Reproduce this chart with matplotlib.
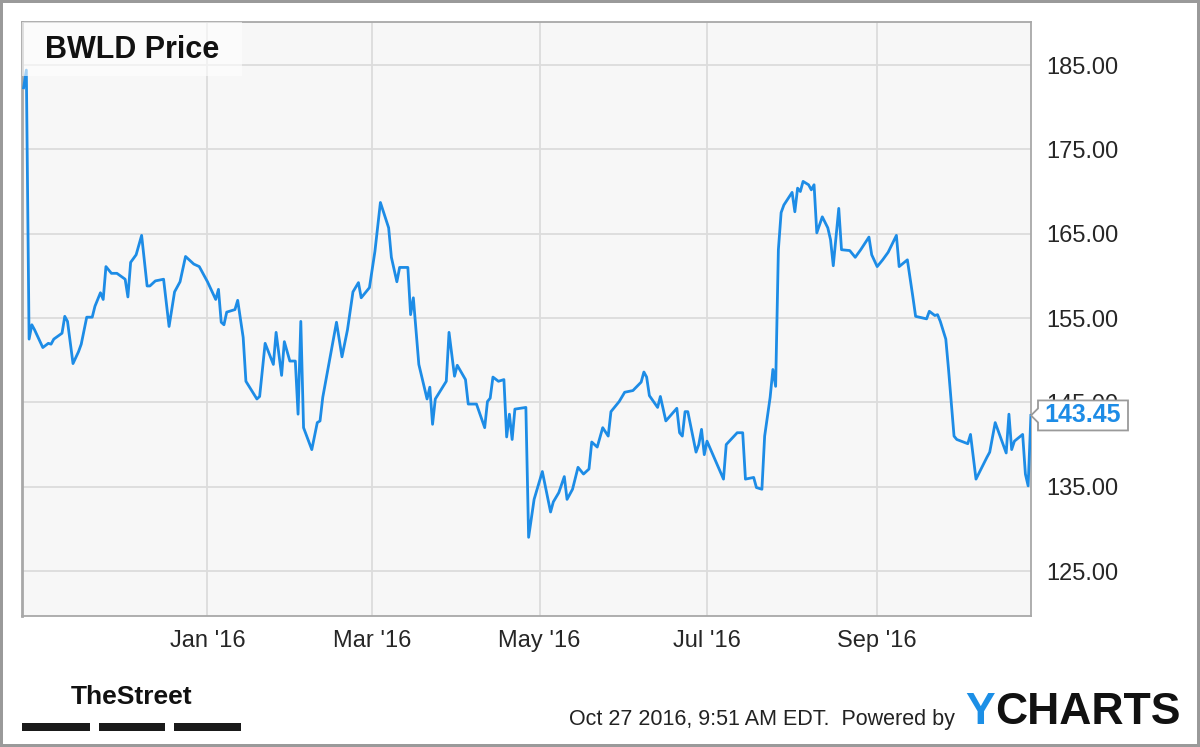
import matplotlib
matplotlib.use("Agg")
import matplotlib.pyplot as plt
import matplotlib.dates as mdates
import matplotlib.transforms as mtransforms
from matplotlib.patches import Polygon, Rectangle
import pandas as pd

# ---------------- data ----------------
dates = [
    "2015-10-26", "2015-10-27", "2015-10-28", "2015-10-29", "2015-10-30", "2015-11-02",
    "2015-11-04", "2015-11-05", "2015-11-06", "2015-11-09", "2015-11-10", "2015-11-11",
    "2015-11-13", "2015-11-15", "2015-11-16", "2015-11-18", "2015-11-20", "2015-11-21",
    "2015-11-23", "2015-11-24", "2015-11-25", "2015-11-27", "2015-11-29", "2015-12-02",
    "2015-12-03", "2015-12-04", "2015-12-06", "2015-12-08", "2015-12-10", "2015-12-11",
    "2015-12-13", "2015-12-16", "2015-12-18", "2015-12-20", "2015-12-22", "2015-12-24",
    "2015-12-27", "2015-12-29", "2016-01-01", "2016-01-04", "2016-01-05", "2016-01-06",
    "2016-01-07", "2016-01-08", "2016-01-11", "2016-01-12", "2016-01-14", "2016-01-15",
    "2016-01-19", "2016-01-20", "2016-01-22", "2016-01-25", "2016-01-26", "2016-01-28",
    "2016-01-29", "2016-01-31", "2016-02-02", "2016-02-03", "2016-02-04", "2016-02-05",
    "2016-02-08", "2016-02-10", "2016-02-11", "2016-02-12", "2016-02-17", "2016-02-19",
    "2016-02-21", "2016-02-23", "2016-02-25", "2016-02-26", "2016-02-29", "2016-03-02",
    "2016-03-04", "2016-03-07", "2016-03-08", "2016-03-10", "2016-03-11", "2016-03-14",
    "2016-03-15", "2016-03-16", "2016-03-18", "2016-03-21", "2016-03-22", "2016-03-23",
    "2016-03-24", "2016-03-28", "2016-03-29", "2016-03-31", "2016-04-01", "2016-04-04",
    "2016-04-05", "2016-04-08", "2016-04-11", "2016-04-12", "2016-04-13", "2016-04-14",
    "2016-04-16", "2016-04-18", "2016-04-19", "2016-04-20", "2016-04-21", "2016-04-22",
    "2016-04-26", "2016-04-27", "2016-04-29", "2016-05-02", "2016-05-05", "2016-05-06",
    "2016-05-08", "2016-05-10", "2016-05-11", "2016-05-13", "2016-05-15", "2016-05-17",
    "2016-05-19", "2016-05-20", "2016-05-22", "2016-05-24", "2016-05-26", "2016-05-27",
    "2016-05-30", "2016-06-01", "2016-06-04", "2016-06-07", "2016-06-08", "2016-06-09",
    "2016-06-10", "2016-06-13", "2016-06-14", "2016-06-16", "2016-06-20", "2016-06-21",
    "2016-06-22", "2016-06-23", "2016-06-24", "2016-06-27", "2016-06-28", "2016-06-29",
    "2016-06-30", "2016-07-01", "2016-07-07", "2016-07-08", "2016-07-12", "2016-07-14",
    "2016-07-15", "2016-07-18", "2016-07-19", "2016-07-21", "2016-07-22", "2016-07-24",
    "2016-07-25", "2016-07-26", "2016-07-27", "2016-07-28", "2016-07-29", "2016-08-01",
    "2016-08-02", "2016-08-03", "2016-08-04", "2016-08-05", "2016-08-07", "2016-08-08",
    "2016-08-09", "2016-08-10", "2016-08-12", "2016-08-14", "2016-08-15", "2016-08-16",
    "2016-08-18", "2016-08-19", "2016-08-22", "2016-08-24", "2016-08-26", "2016-08-29",
    "2016-08-30", "2016-09-01", "2016-09-03", "2016-09-05", "2016-09-08", "2016-09-09",
    "2016-09-12", "2016-09-14", "2016-09-15", "2016-09-19", "2016-09-20", "2016-09-22",
    "2016-09-23", "2016-09-24", "2016-09-26", "2016-09-27", "2016-09-29", "2016-09-30",
    "2016-10-04", "2016-10-05", "2016-10-07", "2016-10-11", "2016-10-12", "2016-10-14",
    "2016-10-18", "2016-10-19", "2016-10-20", "2016-10-21", "2016-10-24", "2016-10-25",
    "2016-10-26", "2016-10-27",
]
prices = [
    182.3, 184.4, 152.5, 154.2, 153.6, 151.5,
    152.0, 151.9, 152.5, 153.2, 155.2, 154.6,
    149.6, 151.0, 151.9, 155.1, 155.1, 156.4,
    158.0, 157.2, 161.1, 160.3, 160.3, 159.6,
    157.5, 161.6, 162.5, 164.8, 158.8, 158.8,
    159.4, 159.6, 154.0, 158.1, 159.3, 162.3,
    161.4, 161.1, 159.3, 157.2, 158.4, 154.5,
    154.2, 155.7, 156.0, 157.1, 152.7, 147.5,
    145.4, 145.7, 152.0, 149.5, 153.3, 148.2,
    152.2, 149.9, 149.9, 143.6, 154.6, 142.0,
    139.4, 142.6, 142.8, 145.6, 154.5, 150.4,
    153.6, 158.1, 159.2, 157.4, 158.6, 162.9,
    168.7, 165.7, 162.2, 159.3, 161.0, 161.0,
    155.4, 157.4, 149.5, 145.4, 146.8, 142.4,
    145.4, 147.5, 153.3, 148.1, 149.4, 147.7,
    144.8, 144.8, 142.0, 145.1, 145.5, 148.0,
    147.5, 147.7, 140.9, 143.6, 140.6, 144.2,
    144.4, 129.0, 133.5, 136.8, 132.0, 133.2,
    134.3, 136.2, 133.5, 134.7, 137.3, 136.5,
    137.1, 140.3, 139.7, 142.0, 141.0, 143.9,
    145.1, 146.2, 146.4, 147.4, 148.6, 148.0,
    145.8, 144.4, 145.7, 142.8, 144.3, 141.4,
    141.0, 143.9, 143.9, 139.1, 140.0, 141.8,
    138.8, 140.4, 135.9, 140.0, 141.4, 141.4,
    135.9, 136.1, 134.9, 134.7, 141.0, 145.6,
    148.9, 146.9, 163.1, 167.5, 168.4, 169.9,
    167.6, 170.4, 170.0, 171.2, 170.8, 170.2,
    170.8, 165.1, 167.0, 165.7, 164.3, 161.2,
    168.0, 163.1, 163.0, 162.2, 163.1, 164.6,
    162.5, 161.1, 161.9, 162.8, 164.8, 161.1,
    161.9, 157.5, 155.2, 154.9, 155.8, 155.3,
    155.4, 154.6, 152.5, 148.9, 141.0, 140.6,
    140.1, 141.2, 135.9, 138.5, 139.1, 142.6,
    139.0, 143.6, 139.4, 140.4, 141.2, 136.5,
    135.1, 143.45,
]
title = "BWLD Price"
y_ticks = [125, 135, 145, 155, 165, 175, 185]
x_tick_dates = ["2016-01-01", "2016-03-01", "2016-05-01", "2016-07-01", "2016-09-01"]
x_tick_labels = ["Jan '16", "Mar '16", "May '16", "Jul '16", "Sep '16"]
footer_time = "Oct 27 2016, 9:51 AM EDT.  Powered by"

# ---------------- styling ----------------
LINE = "#1d8ce6"
GRID = "#dcdcdc"
SPINE = "#a8a8a8"
FONT = ["Liberation Sans", "DejaVu Sans"]

W, H = 1200, 747
fig = plt.figure(figsize=(W / 100, H / 100), dpi=100, facecolor="white")
fig.patch.set_edgecolor("#9a9a9a")
fig.patch.set_linewidth(3)

ax = fig.add_axes([22 / W, 1 - 616 / H, (1031 - 22) / W, (616 - 22) / H])
ax.set_facecolor("#f7f7f7")

x = pd.to_datetime(dates)
ax.plot(x, prices, color=LINE, lw=2.0, solid_joinstyle="round", zorder=3)

ax.set_xlim(pd.Timestamp("2015-10-25 10:00"), pd.Timestamp("2016-10-27 01:00"))
ax.set_ylim(119.67, 190.1)

ax.set_yticks(y_ticks)
ax.set_yticklabels([f"{v:.2f}" for v in y_ticks])
ax.yaxis.tick_right()
ax.set_xticks(pd.to_datetime(x_tick_dates))
ax.set_xticklabels(x_tick_labels)
ax.tick_params(axis="both", length=0, colors="#262626")
ax.tick_params(axis="y", pad=11, labelsize=17)
ax.tick_params(axis="x", pad=10, labelsize=17)
for lab in ax.get_yticklabels() + ax.get_xticklabels():
    lab.set_family(FONT)

ax.grid(True, color=GRID, lw=1.3, zorder=0)
ax.set_axisbelow(True)
for s in ax.spines.values():
    s.set_color(SPINE)
    s.set_linewidth(1.3)
ax.spines["left"].set_linewidth(2)

# title box
ax.add_patch(Rectangle((0, 1 - 54 / 594), 220 / 1009, 54 / 594, transform=ax.transAxes,
                       facecolor="white", alpha=0.6, edgecolor="none", zorder=4))
ax.text(23 / 1009, 1 - 28 / 594, title, transform=ax.transAxes, fontsize=22,
        fontweight="bold", family=FONT, color="#111111", va="center", ha="left", zorder=5)

# last value callout
fig.canvas.draw()
last = prices[-1]
px, py = ax.transData.transform((mdates.date2num(x[-1]), last))
px = ax.transAxes.transform((1, 0))[0]
poly = [(px, py), (px + 7, py + 7), (px + 7, py + 15), (px + 97, py + 15),
        (px + 97, py - 15), (px + 7, py - 15), (px + 7, py - 7)]
fig.add_artist(Polygon(poly, closed=True, transform=mtransforms.IdentityTransform(),
                       facecolor="white", edgecolor="#9a9a9a", lw=1.3, zorder=6))
fig.text((px + 52) / W, py / H, f"{last:.2f}", fontsize=18, fontweight="bold",
         color=LINE, family=FONT, ha="center", va="center", zorder=7)

# footer: TheStreet logo
fig.text(132 / W, 1 - 697 / H, "TheStreet", fontsize=19, fontweight="bold",
         family=FONT, color="#111111", ha="center", va="center")
for x0, x1 in [(22, 90), (99, 165), (174, 241)]:
    fig.add_artist(Rectangle((x0 / W, 1 - 731 / H), (x1 - x0) / W, 8 / H,
                             transform=fig.transFigure, facecolor="#1a1a1a",
                             edgecolor="none"))

fig.text(955 / W, 1 - 719 / H, footer_time, fontsize=15.5, family=FONT,
         color="#222222", ha="right", va="center")
fig.text(965 / W, 1 - 713 / H, "Y", fontsize=32, fontweight="bold", family=FONT,
         color="#1c8fe6", ha="left", va="center")
fig.text(995 / W, 1 - 713 / H, "CHARTS", fontsize=32, fontweight="bold", family=FONT,
         color="#111111", ha="left", va="center")

fig.savefig("out.png", dpi=100, facecolor="white", edgecolor=fig.patch.get_edgecolor())
